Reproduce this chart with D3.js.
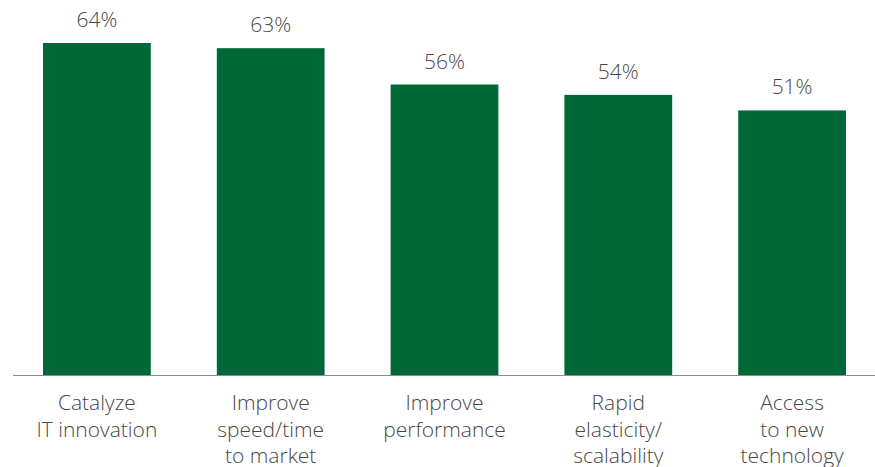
<!DOCTYPE html>
<html>
<head>
<meta charset="utf-8">
<script src="https://cdn.jsdelivr.net/npm/d3@7"></script>
<style>
  html, body { margin: 0; padding: 0; background: #fff; }
  svg { display: block; font-family: "Open Sans", sans-serif; }
</style>
</head>
<body>
<div id="chart"></div>
<script>
const categories = [
  ['Catalyze', 'IT innovation'],
  ['Improve', 'speed/time', 'to market'],
  ['Improve', 'performance'],
  ['Rapid', 'elasticity/', 'scalability'],
  ['Access', 'to new', 'technology']
];
const values = [64, 63, 56, 54, 51];

const W = 875, H = 467;
const baseY = 375;

const svg = d3.select('#chart')
  .append('svg')
  .attr('width', W)
  .attr('height', H);

const x = d3.scaleBand()
  .domain(d3.range(values.length))
  .range([10, 879])
  .paddingInner(0.38)
  .paddingOuter(0.19);

const y = d3.scaleLinear()
  .domain([0, 64])
  .range([baseY, 43]);

// Bars
svg.selectAll('rect.bar')
  .data(values)
  .join('rect')
  .attr('class', 'bar')
  .attr('x', (d, i) => x(i))
  .attr('y', d => y(d))
  .attr('width', x.bandwidth())
  .attr('height', d => baseY - y(d))
  .attr('fill', '#006837');

// Baseline
svg.append('line')
  .attr('x1', 13).attr('x2', W)
  .attr('y1', baseY + 0.5).attr('y2', baseY + 0.5)
  .attr('stroke', '#8c8c8c')
  .attr('stroke-width', 1.2);

// Value labels
svg.selectAll('text.val')
  .data(values)
  .join('text')
  .attr('class', 'val')
  .attr('x', (d, i) => x(i) + x.bandwidth() / 2)
  .attr('y', d => y(d) - 16)
  .attr('text-anchor', 'middle')
  .attr('font-size', '21px')
  .attr('font-weight', 300)
  .attr('fill', '#474747')
  .text(d => d + '%');

// Category labels
const lab = svg.selectAll('text.cat')
  .data(categories)
  .join('text')
  .attr('class', 'cat')
  .attr('text-anchor', 'middle')
  .attr('font-size', '21px')
  .attr('font-weight', 300)
  .attr('fill', '#474747');

lab.selectAll('tspan')
  .data((d, i) => d.map(t => ({ t, i })))
  .join('tspan')
  .attr('x', d => x(d.i) + x.bandwidth() / 2)
  .attr('y', (d, j) => 410 + j * 26.5)
  .text(d => d.t);
</script>
</body>
</html>
